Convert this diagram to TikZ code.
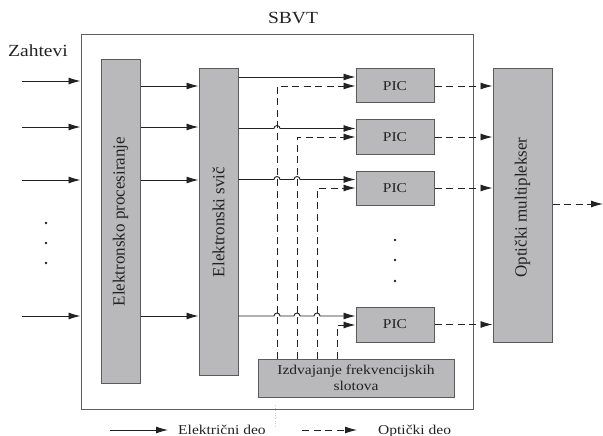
\documentclass[tikz,border=0pt]{standalone}
\usepackage{fontspec}
\setmainfont{Liberation Serif}
\newfontfamily\widefont[FakeStretch=1.15]{Liberation Serif}
\usetikzlibrary{arrows.meta,calc}
\definecolor{boxfill}{HTML}{B9B9BC}
\definecolor{boxline}{HTML}{5A5A5A}
\definecolor{ink}{HTML}{222222}
\begin{document}
\begin{tikzpicture}[x=1pt,y=-1pt,
  blk/.style={draw=boxline,fill=boxfill,line width=1pt,inner sep=0pt},
  el/.style={draw=ink,line width=0.9pt,-{Latex[length=12pt,width=7pt]}},
  opt/.style={draw=ink,line width=0.9pt,dash pattern=on 7pt off 4.5pt,-{Latex[length=12pt,width=7pt]}},
  lbl/.style={font=\widefont\fontsize{13.5}{15.5}\selectfont,text=ink},
  hbig/.style={font=\widefont\fontsize{17}{19}\selectfont,text=ink},
  big/.style={font=\fontsize{17}{19}\selectfont,text=ink},
  dot/.style={circle,fill=ink,inner sep=0pt,minimum size=2.8pt}]
\useasboundingbox (0,0) rectangle (603,436);
% outer box
\node[draw=gray!75!black,line width=1pt,minimum width=392pt,minimum height=374pt,inner sep=0pt] (outer) at (277,222) {};
\node[hbig] (title) at (293,18) {SBVT};
\node[hbig] (zah) at (38,51) {Zahtevi};
% blocks
\node[blk,minimum width=39pt,minimum height=323pt] (ep) at (120.5,221.5) {};
\node[rotate=90,big] (eptext) at (ep.center) {Elektronsko procesiranje};
\node[blk,minimum width=39pt,minimum height=306pt] (es) at (218.5,222) {};
\node[rotate=90,big] (estext) at (es.center) {Elektronski svič};
\node[blk,minimum width=78pt,minimum height=34pt,lbl] (p1) at (395,86) {PIC};
\node[blk,minimum width=78pt,minimum height=34pt,lbl] (p2) at (395,137) {PIC};
\node[blk,minimum width=78pt,minimum height=34pt,lbl] (p3) at (395,188) {PIC};
\node[blk,minimum width=78pt,minimum height=35pt,lbl] (p4) at (395,324.5) {PIC};
\node[blk,minimum width=59pt,minimum height=273pt] (mux) at (522.5,205.5) {};
\node[rotate=90,big] (muxtext) at ([yshift=-2pt]mux.center) {Optički multiplekser};
\node[blk,minimum width=196pt,minimum height=38pt,lbl,align=center,font=\widefont\fontsize{13.5}{16}\selectfont] (izd) at (356,378) {Izdvajanje frekvencijskih\\slotova};
% inputs
\foreach \y in {81,127,180,316} {
  \coordinate (in\y) at (22,\y);
  \draw[el] (in\y) -- (outer.west |- 0,\y);
}
\foreach \y in {86,127,180,316} \draw[el] (ep.east |- 0,\y) -- (es.west |- 0,\y);
% dots
\foreach \y in {223,243,263} \node[dot] (ld\y) at (46,\y) {};
\foreach \y in {240,260,281} \node[dot] (md\y) at (395,\y) {};
% switch to PIC (solid)
\draw[el] (es.east |- 0,77) -- (p1.west |- 0,77);
\draw[el] (es.east |- 0,128.5) -- (277-3,128.5) arc[start angle=180,end angle=0,radius=3pt] -- (p2.west |- 0,128.5);
\draw[el] (es.east |- 0,179.5) -- (277-3,179.5) arc[start angle=180,end angle=0,radius=3pt]
   -- (297-3,179.5) arc[start angle=180,end angle=0,radius=3pt] -- (p3.west |- 0,179.5);
\draw[el] (es.east |- 0,316) -- (277-3,316) arc[start angle=180,end angle=0,radius=3pt]
   -- (297-3,316) arc[start angle=180,end angle=0,radius=3pt]
   -- (317-3,316) arc[start angle=180,end angle=0,radius=3pt] -- (p4.west |- 0,316);
% slot extraction to PIC (dashed)
\draw[opt] (izd.north -| 277,0) -- (277,86) -- (p1.west |- 0,86);
\draw[opt] (izd.north -| 297,0) -- (297,137) -- (p2.west |- 0,137);
\draw[opt] (izd.north -| 317,0) -- (317,188) -- (p3.west |- 0,188);
\draw[opt] (izd.north -| 337,0) -- (337,325) -- (p4.west |- 0,325);
% PIC to mux
\foreach \p in {p1,p2,p3,p4} \draw[opt] (\p.east) -- (mux.west |- \p.east);
\coordinate (out) at (603,204);
\draw[opt] (mux.east |- out) -- (out);
% faint dotted mark
\coordinate (fa) at (275,405);
\coordinate (fb) at (275,428);
\draw[gray!40,dotted,line width=0.6pt] (fa) -- (fb);
% legend
\coordinate (la) at (110,430);
\coordinate (lb) at (168,430);
\draw[el] (la) -- (lb);
\node[lbl,anchor=base west,inner sep=0pt] (le) at (178,434.5) {Električni deo};
\coordinate (lc) at (302,430);
\coordinate (ld) at (357,430);
\draw[opt] (lc) -- (ld);
\node[lbl,anchor=base west,inner sep=0pt] (lo) at (378,434.5) {Optički deo};
\end{tikzpicture}
\end{document}
